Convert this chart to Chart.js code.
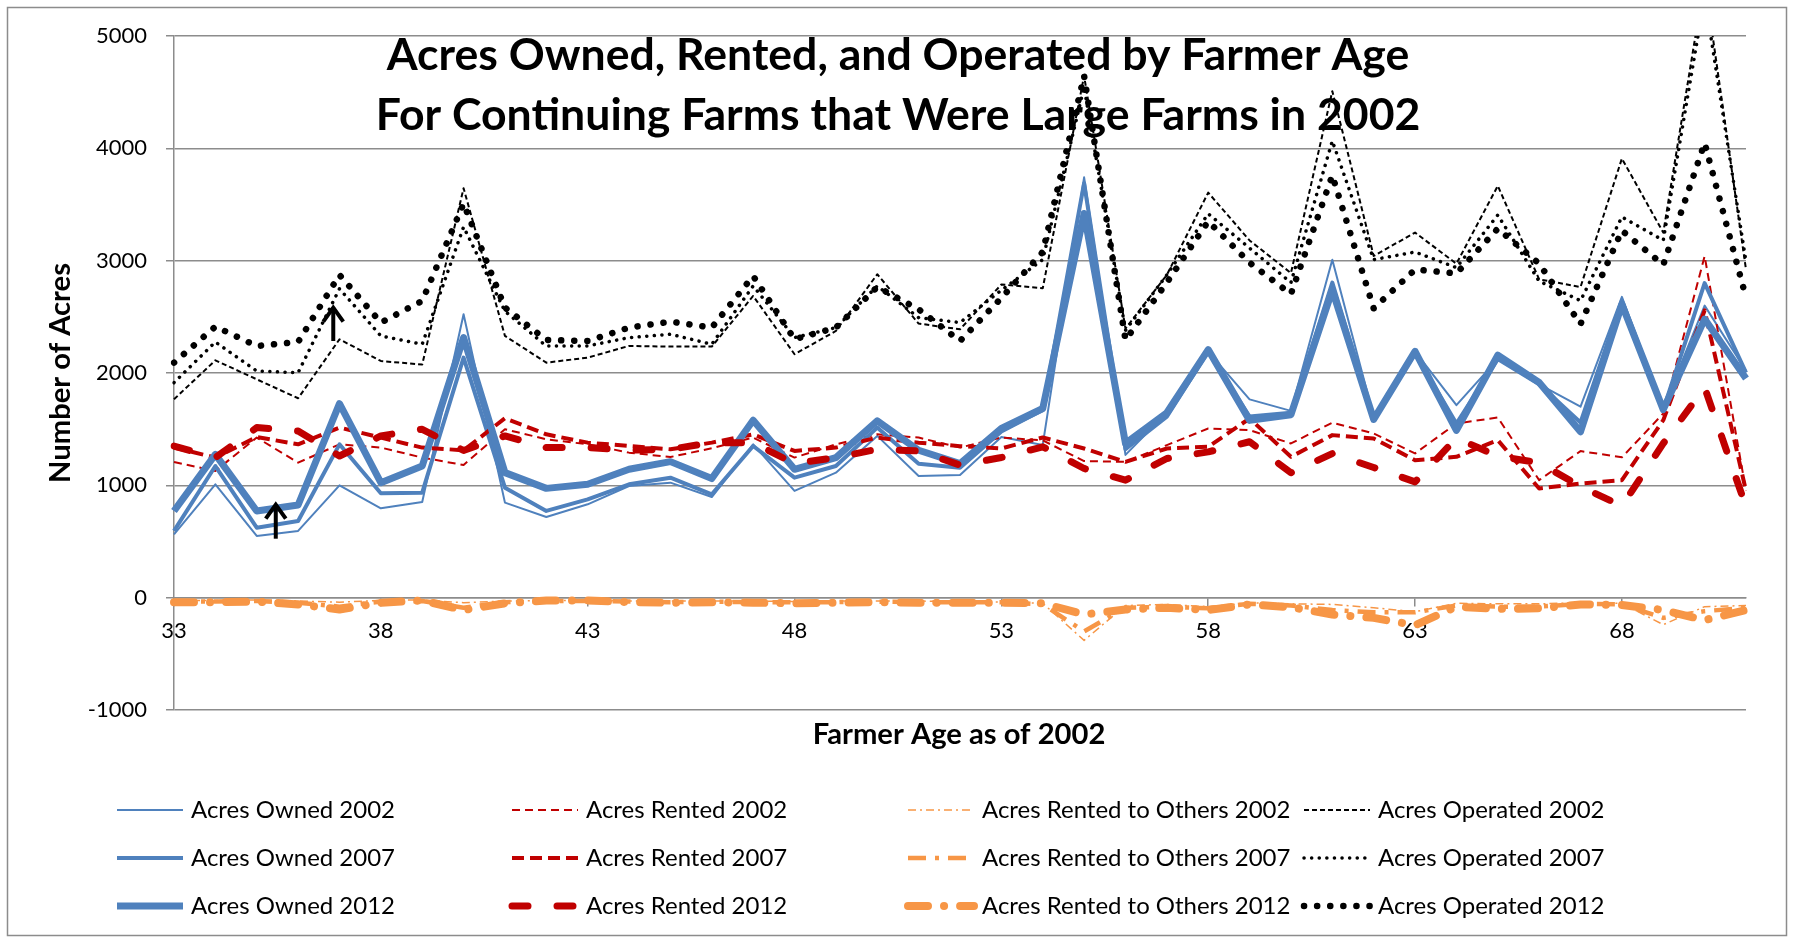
<!DOCTYPE html>
<html>
<head>
<meta charset="utf-8">
<title>Acres Owned, Rented, and Operated by Farmer Age</title>
<script src="https://cdn.jsdelivr.net/npm/chart.js@4.4.1/dist/chart.umd.min.js"></script>
<style>
  html, body { margin: 0; padding: 0; background: #ffffff; }
  #box { width: 1794px; height: 939px; }
</style>
</head>
<body>
<div id="box"><canvas id="myChart"></canvas></div>
<script>
// Categories (farmer age in 2002) and the axis tick labels
var ages = [33, 34, 35, 36, 37, 38, 39, 40, 41, 42, 43, 44, 45, 46, 47, 48, 49, 50, 51, 52,
            53, 54, 55, 56, 57, 58, 59, 60, 61, 62, 63, 64, 65, 66, 67, 68, 69, 70, 71];
var xTickLabels = [33, 38, 43, 48, 53, 58, 63, 68];
var yTickLabels = [-1000, 0, 1000, 2000, 3000, 4000, 5000];

// Series values
var owned2002 = [564, 1009, 549, 594, 1000, 795, 852, 2523, 846, 718, 831, 994, 1024, 896, 1365, 950, 1113, 1440, 1083, 1092,
                 1430, 1360, 3742, 1271, 1646, 2191, 1765, 1663, 3009, 1612, 2193, 1714, 2124, 1899, 1700, 2678, 1691, 2600, 2020];
var owned2007 = [594, 1172, 623, 683, 1365, 929, 935, 2137, 979, 772, 875, 1009, 1068, 920, 1350, 1068, 1172, 1514, 1193, 1157,
                 1480, 1670, 3690, 1322, 1612, 2191, 1612, 1646, 2805, 1595, 2176, 1550, 2124, 1899, 1560, 2644, 1674, 2800, 2003];
var owned2012 = [772, 1276, 772, 825, 1727, 1024, 1172, 2315, 1113, 973, 1009, 1143, 1211, 1060, 1579, 1143, 1247, 1573, 1312, 1193,
                 1506, 1684, 3420, 1373, 1646, 2208, 1578, 1629, 2737, 1587, 2193, 1490, 2159, 1916, 1477, 2609, 1674, 2480, 1951];

var rented2002 = [1208, 1128, 1425, 1202, 1365, 1336, 1247, 1181, 1499, 1410, 1365, 1291, 1252, 1330, 1425, 1247, 1365, 1454, 1425, 1336,
                  1426, 1400, 1216, 1209, 1358, 1506, 1491, 1373, 1558, 1462, 1284, 1551, 1604, 1046, 1305, 1249, 1640, 3040, 950];
var rented2007 = [1336, 1247, 1430, 1365, 1514, 1425, 1336, 1312, 1597, 1454, 1380, 1350, 1321, 1380, 1454, 1306, 1336, 1425, 1380, 1349,
                  1328, 1426, 1328, 1209, 1328, 1343, 1595, 1254, 1447, 1417, 1224, 1254, 1402, 972, 1016, 1046, 1580, 2557, 950];
var rented2012 = [1350, 1247, 1514, 1484, 1261, 1440, 1499, 1310, 1440, 1336, 1336, 1312, 1321, 1380, 1380, 1193, 1247, 1321, 1306, 1180,
                  1248, 1343, 1150, 1046, 1239, 1298, 1388, 1112, 1283, 1159, 1031, 1420, 1260, 1200, 990, 815, 1373, 1870, 810];

var rentedOut2002 = [-25, -25, -20, -30, -40, -25, -20, -45, -30, -25, -25, -30, -30, -30, -30, -35, -30, -30, -30, -35,
                     -40, -50, -380, -70, -60, -80, -45, -55, -60, -90, -125, -50, -55, -55, -45, -50, -240, -80, -70];
var rentedOut2007 = [-30, -35, -30, -45, -80, -35, -30, -90, -40, -30, -30, -35, -40, -35, -40, -40, -40, -35, -40, -40,
                     -40, -60, -300, -90, -80, -95, -55, -70, -110, -130, -130, -70, -80, -80, -55, -60, -180, -120, -90];
var rentedOut2012 = [-40, -40, -35, -60, -105, -45, -25, -110, -50, -25, -25, -40, -45, -40, -45, -50, -45, -40, -45, -45,
                     -45, -50, -150, -105, -90, -110, -60, -85, -150, -180, -245, -80, -100, -95, -60, -65, -110, -200, -110];

var operated2002 = [1766, 2113, 1944, 1775, 2300, 2107, 2075, 3645, 2330, 2092, 2137, 2241, 2235, 2235, 2686, 2167, 2374, 2879, 2440, 2389,
                    2788, 2754, 4645, 2396, 2873, 3606, 3180, 2890, 4509, 3042, 3250, 2973, 3666, 2834, 2765, 3909, 3250, 5500, 2921];
var operated2007 = [1914, 2276, 2018, 2003, 2750, 2330, 2256, 3300, 2550, 2240, 2241, 2315, 2345, 2256, 2775, 2315, 2404, 2775, 2493, 2449,
                    2737, 3009, 4543, 2379, 2873, 3418, 3112, 2805, 4066, 3009, 3077, 2938, 3406, 2817, 2644, 3389, 3181, 5350, 2990];
var operated2012 = [2092, 2413, 2240, 2276, 2873, 2449, 2642, 3508, 2582, 2294, 2285, 2404, 2457, 2404, 2864, 2300, 2404, 2766, 2567, 2285,
                    2668, 3077, 4645, 2294, 2805, 3350, 2982, 2703, 3759, 2575, 2921, 2886, 3285, 2973, 2436, 3268, 2963, 4047, 2672];

// The two small arrows drawn on the chart (age, from value, to value)
var arrows = [[36.85, 2285, 2600], [35.46, 525, 846]];

var titleLines = ["Acres Owned, Rented, and Operated by Farmer Age", "For Continuing Farms that Were Large Farms in 2002"];

var BLUE = "#4f81bd", RED = "#c00000", ORANGE = "#f79646", BLACK = "#000000";
var FONT = "Lato";

// Font size that makes a text a given width
var measure = document.createElement("canvas").getContext("2d");
function fitSize(text, width, weight) {
    measure.font = weight + " 100px " + FONT;
    return 100 * width / measure.measureText(text).width;
}
var titleSize = fitSize(titleLines[0], 1023, "bold");
var tickSize = fitSize("5000", 51, "normal");
var axisTitleSize = fitSize("Number of Acres", 220, "bold");
var legendSize = fitSize("Acres Owned 2002", 204, "normal");

function line(label, data, color, width, dash, cap) {
    return {
        label: label,
        data: data,
        borderColor: color,
        backgroundColor: color,
        borderWidth: width,
        borderDash: dash,
        borderCapStyle: cap || "butt",
        borderJoinStyle: "round",
        pointRadius: 0,
        pointHoverRadius: 0,
        tension: 0,
        fill: false
    };
}

var datasets = [
    line("Acres Owned 2002", owned2002, BLUE, 2, []),
    line("Acres Rented 2002", rented2002, RED, 2, [8, 5]),
    line("Acres Rented to Others 2002", rentedOut2002, ORANGE, 1.5, [8, 4, 2, 4]),
    line("Acres Operated 2002", operated2002, BLACK, 2, [5, 3]),
    line("Acres Owned 2007", owned2007, BLUE, 4, []),
    line("Acres Rented 2007", rented2007, RED, 4, [12, 6]),
    line("Acres Rented to Others 2007", rentedOut2007, ORANGE, 4.5, [18, 9, 4, 9]),
    line("Acres Operated 2007", operated2007, BLACK, 3.5, [0.1, 7.5], "round"),
    line("Acres Owned 2012", owned2012, BLUE, 7, []),
    line("Acres Rented 2012", rented2012, RED, 7, [16, 29], "round"),
    line("Acres Rented to Others 2012", rentedOut2012, ORANGE, 8, [20, 16, 0.1, 16], "round"),
    line("Acres Operated 2012", operated2012, BLACK, 6.5, [0.1, 13], "round")
];
// later series are drawn on top, like the original
datasets.forEach(function (d, i) { d.order = datasets.length - i; });

// Title, axis titles, legend, arrows and frame
var extras = {
    id: "extras",
    beforeDraw: function (chart) {
        var ctx = chart.ctx;
        ctx.save();
        ctx.fillStyle = "#ffffff";
        ctx.fillRect(0, 0, chart.width, chart.height);
        ctx.restore();
    },
    afterDraw: function (chart) {
        var ctx = chart.ctx;
        var xs = chart.scales.x, ys = chart.scales.y;
        ctx.save();

        // frame
        ctx.strokeStyle = "#8c8c8c";
        ctx.lineWidth = 1.5;
        ctx.setLineDash([]);
        ctx.strokeRect(7.5, 7.5, 1779, 928);

        // arrows
        ctx.strokeStyle = "#000000";
        ctx.lineWidth = 4;
        ctx.lineCap = "butt";
        arrows.forEach(function (a) {
            var x = xs.getPixelForValue(a[0] - ages[0]);
            var y0 = ys.getPixelForValue(a[1]);
            var y1 = ys.getPixelForValue(a[2]);
            ctx.beginPath();
            ctx.moveTo(x, y0);
            ctx.lineTo(x, y1 + 2);
            ctx.stroke();
            ctx.beginPath();
            ctx.moveTo(x - 10, y1 + 16);
            ctx.lineTo(x, y1 + 2);
            ctx.lineTo(x + 10, y1 + 16);
            ctx.stroke();
        });

        // title
        ctx.fillStyle = "#000000";
        ctx.textAlign = "center";
        ctx.textBaseline = "alphabetic";
        ctx.font = "bold " + titleSize + "px " + FONT;
        ctx.fillText(titleLines[0], 898, 70);
        ctx.fillText(titleLines[1], 898, 130);

        // axis titles
        ctx.font = "bold " + axisTitleSize + "px " + FONT;
        ctx.fillText("Farmer Age as of 2002", 959, 744);
        ctx.save();
        ctx.translate(70, 373);
        ctx.rotate(-Math.PI / 2);
        ctx.fillText("Number of Acres", 0, 0);
        ctx.restore();

        // legend, 4 columns x 3 rows
        ctx.textAlign = "left";
        ctx.font = legendSize + "px " + FONT;
        var colX = [115, 510, 906, 1302];
        var rowY = [810, 858, 906];
        chart.data.datasets.forEach(function (d, i) {
            var x = colX[i % 4], y = rowY[Math.floor(i / 4)];
            ctx.strokeStyle = d.borderColor;
            ctx.lineWidth = d.borderWidth;
            ctx.lineCap = d.borderCapStyle;
            ctx.setLineDash(d.borderDash);
            ctx.beginPath();
            ctx.moveTo(x + 2, y);
            ctx.lineTo(x + 68, y);
            ctx.stroke();
            ctx.setLineDash([]);
            ctx.fillStyle = "#000000";
            ctx.fillText(d.label, x + 76, y + 8);
        });
        ctx.restore();
    }
};

var config = {
    type: "line",
    data: { labels: ages, datasets: datasets },
    options: {
        responsive: true,
        maintainAspectRatio: false,
        animation: false,
        layout: { padding: { left: 0, top: 36, right: 48, bottom: 229 } },
        plugins: {
            legend: { display: false },
            title: { display: false },
            tooltip: { enabled: false }
        },
        scales: {
            x: {
                type: "category",
                position: { y: 0 },
                offset: false,
                grid: { display: true, drawOnChartArea: false, drawTicks: true, tickLength: 8, color: "#8c8c8c", lineWidth: 1.5 },
                border: { display: true, color: "#8c8c8c", width: 1.5 },
                ticks: {
                    autoSkip: false,
                    maxRotation: 0,
                    minRotation: 0,
                    padding: 12,
                    color: "#000000",
                    font: { family: FONT, size: tickSize },
                    callback: function (value, index) {
                        var age = ages[index];
                        return xTickLabels.indexOf(age) >= 0 ? String(age) : null;
                    }
                }
            },
            y: {
                min: -1000,
                max: 5000,
                afterFit: function (s) { s.width = 174; },
                afterBuildTicks: function (s) {
                    s.ticks = yTickLabels.map(function (v) { return { value: v }; });
                },
                grid: { color: "#8c8c8c", lineWidth: 1.5, tickLength: 8, drawTicks: true },
                border: { display: true, color: "#8c8c8c", width: 1.5 },
                ticks: {
                    padding: 19,
                    color: "#000000",
                    font: { family: FONT, size: tickSize },
                    callback: function (value) { return String(value); }
                }
            }
        }
    },
    plugins: [extras]
};

var myChart = new Chart(document.getElementById("myChart"), config);
</script>
</body>
</html>
